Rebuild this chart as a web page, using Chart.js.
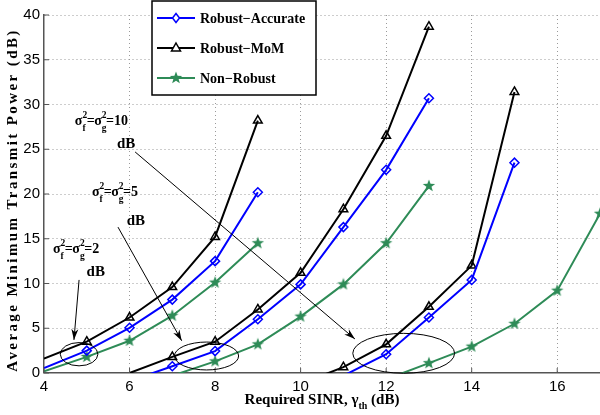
<!DOCTYPE html>
<html>
<head>
<meta charset="utf-8">
<script src="https://cdn.jsdelivr.net/npm/chart.js@4.4.0/dist/chart.umd.min.js"></script>
<style>
  html, body { margin: 0; padding: 0; background: #fff; }
  #wrap { width: 600px; height: 415px; }
</style>
</head>
<body>
<div id="wrap"><canvas id="powerChart"></canvas></div>
<script>
const seriesNames = ['Robust\u2212Accurate', 'Robust\u2212MoM', 'Non\u2212Robust'];
const seriesColors = ['#0000ff', '#000000', '#2e8b57'];

// sigma_f^2 = sigma_g^2 = 2 dB
const x2Acc = [4, 5, 6, 7, 8, 9];
const y2Acc = [0.55, 2.5, 5.05, 8.2, 12.5, 20.2];
const x2MoM = [4, 5, 6, 7, 8, 9];
const y2MoM = [1.6, 3.5, 6.2, 9.6, 15.2, 28.2];
const x2Non = [4, 5, 6, 7, 8, 9];
const y2Non = [0.2, 1.8, 3.6, 6.4, 10.1, 14.5];

// 5 dB
const x5Acc = [6, 7, 8, 9, 10, 11, 12, 13];
const y5Acc = [-0.9, 0.75, 2.45, 6.0, 9.9, 16.3, 22.7, 30.7];
const x5MoM = [6, 7, 8, 9, 10, 11, 12, 13];
const y5MoM = [0, 1.8, 3.5, 7.1, 11.2, 18.3, 26.5, 38.7];
const x5Non = [7, 8, 9, 10, 11, 12, 13];
const y5Non = [-0.3, 1.3, 3.2, 6.3, 9.9, 14.5, 20.9];

// 10 dB
const x10Acc = [11, 12, 13, 14, 15];
const y10Acc = [-0.3, 2.1, 6.2, 10.4, 23.5];
const x10MoM = [10, 11, 12, 13, 14, 15];
const y10MoM = [-1.2, 0.65, 3.2, 7.4, 12.0, 31.4];
const x10Non = [12, 13, 14, 15, 16, 17];
const y10Non = [-0.7, 1.1, 2.95, 5.5, 9.2, 17.8];

const xTicks = [4, 6, 8, 10, 12, 14, 16];
const yTicks = [0, 5, 10, 15, 20, 25, 30, 35, 40];
const X_MIN = 4, X_MAX = 17, Y_MIN = 0, Y_MAX = 40;

// annotations (data units)
const notes = [
    { tail: '10', x: 4.72, y: 27.7, dbx: 5.92, dby: 25.1 },
    { tail: '5', x: 5.12, y: 19.8, dbx: 6.15, dby: 16.5 },
    { tail: '2', x: 4.21, y: 13.4, dbx: 5.21, dby: 10.8 }
];
const rings = [
    { x: 4.82, y: 2.1, rx: 0.44, ry: 1.3 },
    { x: 7.80, y: 1.9, rx: 0.75, ry: 1.56 },
    { x: 12.41, y: 2.2, rx: 1.19, ry: 2.23 }
];
const arrows = [
    { x1: 4.82, y1: 10.4, x2: 4.70, y2: 3.7 },
    { x1: 5.73, y1: 16.3, x2: 7.22, y2: 3.6 },
    { x1: 6.13, y1: 24.7, x2: 11.27, y2: 3.8 }
];

function makeStar(color) {
    const c = document.createElement('canvas');
    c.width = 14; c.height = 14;
    const g = c.getContext('2d');
    g.fillStyle = color;
    g.beginPath();
    for (let i = 0; i < 10; i++) {
        const r = i % 2 === 0 ? 6.5 : 2.7;
        const a = -Math.PI / 2 + i * Math.PI / 5;
        const px = 7 + r * Math.cos(a), py = 7 + r * Math.sin(a);
        if (i === 0) g.moveTo(px, py); else g.lineTo(px, py);
    }
    g.closePath();
    g.fill();
    return c;
}
const starImg = makeStar(seriesColors[2]);

const pointStyles = ['rectRot', 'triangle', starImg];
const pointSizes = [4.5, 5, 6];

function mk(xs, ys, kind) {
    return {
        label: seriesNames[kind],
        data: xs.map((x, i) => ({ x: x, y: ys[i] })),
        showLine: true,
        borderColor: seriesColors[kind],
        backgroundColor: 'rgba(0,0,0,0)',
        borderWidth: 2,
        pointStyle: pointStyles[kind],
        pointRadius: ctx => (ctx.raw && (ctx.raw.y <= Y_MIN || ctx.raw.x <= X_MIN)) ? 0 : pointSizes[kind],
        pointBorderColor: seriesColors[kind],
        pointBackgroundColor: 'rgba(0,0,0,0)',
        pointBorderWidth: 1.5,
        tension: 0
    };
}

function arrowLine(ctx, x1, y1, x2, y2) {
    ctx.beginPath();
    ctx.moveTo(x1, y1);
    ctx.lineTo(x2, y2);
    ctx.stroke();
    const a = Math.atan2(y2 - y1, x2 - x1);
    const L = 11, W = 3.5;
    ctx.beginPath();
    ctx.moveTo(x2, y2);
    ctx.lineTo(x2 - L * Math.cos(a) + W * Math.sin(a), y2 - L * Math.sin(a) - W * Math.cos(a));
    ctx.lineTo(x2 - 0.7 * L * Math.cos(a), y2 - 0.7 * L * Math.sin(a));
    ctx.lineTo(x2 - L * Math.cos(a) - W * Math.sin(a), y2 - L * Math.sin(a) + W * Math.cos(a));
    ctx.closePath();
    ctx.fill();
}

function mathLabel(ctx, x, y, tail) {
    const big = 'bold 14px "Liberation Serif"';
    const small = 'bold 9.5px "Liberation Serif"';
    let cx = x;
    const sig = sub => {
        ctx.font = big;
        ctx.fillText('\u03c3', cx, y);
        cx += ctx.measureText('\u03c3').width;
        ctx.font = small;
        ctx.fillText('2', cx, y - 7);
        ctx.fillText(sub, cx, y + 6);
        cx += Math.max(ctx.measureText('2').width, ctx.measureText(sub).width) - 0.5;
    };
    sig('f');
    ctx.font = big;
    ctx.fillText('=', cx, y);
    cx += ctx.measureText('=').width - 0.5;
    sig('g');
    ctx.font = big;
    ctx.fillText('=' + tail, cx, y);
}

const extras = {
    id: 'extras',
    afterDatasetsDraw(chart) {
        const ctx = chart.ctx;
        const xs = chart.scales.x, ys = chart.scales.y;
        const area = chart.chartArea;
        ctx.save();

        // inward ticks
        ctx.strokeStyle = '#555';
        ctx.lineWidth = 1;
        yTicks.forEach(v => {
            const py = ys.getPixelForValue(v);
            ctx.beginPath(); ctx.moveTo(area.left, py); ctx.lineTo(area.left + 5, py); ctx.stroke();
        });
        xTicks.forEach(v => {
            const px = xs.getPixelForValue(v);
            ctx.beginPath(); ctx.moveTo(px, area.bottom); ctx.lineTo(px, area.bottom - 5); ctx.stroke();
        });

        // ellipses
        ctx.strokeStyle = '#000';
        ctx.lineWidth = 1;
        rings.forEach(r => {
            const cx = xs.getPixelForValue(r.x), cy = ys.getPixelForValue(r.y);
            const rx = xs.getPixelForValue(r.x + r.rx) - cx;
            const ry = cy - ys.getPixelForValue(r.y + r.ry);
            ctx.beginPath();
            ctx.ellipse(cx, cy, rx, ry, 0, 0, Math.PI * 2);
            ctx.stroke();
        });

        // arrows
        ctx.fillStyle = '#000';
        arrows.forEach(a => {
            arrowLine(ctx, xs.getPixelForValue(a.x1), ys.getPixelForValue(a.y1),
                xs.getPixelForValue(a.x2), ys.getPixelForValue(a.y2));
        });

        // labels
        ctx.textAlign = 'left';
        ctx.textBaseline = 'alphabetic';
        notes.forEach(n => {
            mathLabel(ctx, xs.getPixelForValue(n.x), ys.getPixelForValue(n.y), n.tail);
            ctx.font = 'bold 15px "Liberation Serif"';
            ctx.textAlign = 'center';
            ctx.fillText('dB', xs.getPixelForValue(n.dbx), ys.getPixelForValue(n.dby));
            ctx.textAlign = 'left';
        });

        // legend
        const lx = area.left + 108, ly = 1, lw = 164, lh = 94;
        ctx.fillStyle = '#fff';
        ctx.fillRect(lx, ly, lw, lh);
        ctx.strokeStyle = '#000';
        ctx.lineWidth = 1.5;
        ctx.strokeRect(lx, ly, lw, lh);
        ctx.font = 'bold 14px "Liberation Serif"';
        seriesNames.forEach((name, i) => {
            const yy = ly + 17 + i * 30;
            ctx.strokeStyle = seriesColors[i];
            ctx.lineWidth = 2;
            ctx.beginPath(); ctx.moveTo(lx + 5, yy); ctx.lineTo(lx + 43, yy); ctx.stroke();
            const mx = lx + 24;
            ctx.lineWidth = 1.5;
            if (i === 0) {
                ctx.beginPath();
                ctx.moveTo(mx, yy - 4.5); ctx.lineTo(mx + 3.5, yy); ctx.lineTo(mx, yy + 4.5); ctx.lineTo(mx - 3.5, yy);
                ctx.closePath(); ctx.fillStyle = '#fff'; ctx.fill(); ctx.stroke();
            } else if (i === 1) {
                ctx.beginPath();
                ctx.moveTo(mx, yy - 5); ctx.lineTo(mx + 4.5, yy + 3); ctx.lineTo(mx - 4.5, yy + 3);
                ctx.closePath(); ctx.fillStyle = '#fff'; ctx.fill(); ctx.stroke();
            } else {
                ctx.drawImage(starImg, mx - 7, yy - 7);
            }
            ctx.fillStyle = '#000';
            ctx.fillText(name, lx + 48, yy + 5);
        });

        // axis titles
        ctx.fillStyle = '#000';
        ctx.font = 'bold 15px "Liberation Serif"';
        ctx.letterSpacing = '2.4px';
        ctx.save();
        ctx.translate(17, (area.top + area.bottom) / 2 + 6);
        ctx.rotate(-Math.PI / 2);
        ctx.textAlign = 'center';
        ctx.fillText('Average Minimum Transmit Power (dB)', 0, 0);
        ctx.restore();
        ctx.letterSpacing = '0px';

        const partA = 'Required SINR, \u03b3', partB = 'th', partC = ' (dB)';
        ctx.font = 'bold 15px "Liberation Serif"';
        const wA = ctx.measureText(partA).width, wC = ctx.measureText(partC).width;
        ctx.font = 'bold 10px "Liberation Serif"';
        const wB = ctx.measureText(partB).width;
        let tx = 322 - (wA + wB + wC) / 2;
        const ty = 404;
        ctx.textAlign = 'left';
        ctx.font = 'bold 15px "Liberation Serif"';
        ctx.fillText(partA, tx, ty); tx += wA;
        ctx.font = 'bold 10px "Liberation Serif"';
        ctx.fillText(partB, tx, ty + 5); tx += wB;
        ctx.font = 'bold 15px "Liberation Serif"';
        ctx.fillText(partC, tx, ty);
        ctx.restore();
    }
};

new Chart(document.getElementById('powerChart').getContext('2d'), {
    type: 'scatter',
    data: {
        datasets: [
            mk(x2Acc, y2Acc, 0), mk(x2MoM, y2MoM, 1), mk(x2Non, y2Non, 2),
            mk(x5Acc, y5Acc, 0), mk(x5MoM, y5MoM, 1), mk(x5Non, y5Non, 2),
            mk(x10Acc, y10Acc, 0), mk(x10MoM, y10MoM, 1), mk(x10Non, y10Non, 2)
        ]
    },
    options: {
        responsive: true,
        maintainAspectRatio: false,
        animation: false,
        layout: { autoPadding: false, padding: { top: 15, right: 0, bottom: 0, left: 0 } },
        plugins: { legend: { display: false }, tooltip: { enabled: false } },
        scales: {
            x: {
                type: 'linear',
                min: X_MIN, max: X_MAX,
                afterBuildTicks: s => { s.ticks = xTicks.map(v => ({ value: v })); },
                afterFit: s => { s.height = 42; s.paddingRight = 0; s.paddingLeft = 0; },
                ticks: { color: '#000', padding: 5, font: { family: '"Liberation Sans"', size: 15 } },
                grid: { color: '#9a9a9a', drawTicks: false, lineWidth: ctx => (ctx.tick && ctx.tick.value === X_MIN) ? 0 : 1 },
                border: { display: true, color: '#555', width: 1.5, dash: [1, 3] }
            },
            y: {
                type: 'linear',
                min: Y_MIN, max: Y_MAX,
                afterBuildTicks: s => { s.ticks = yTicks.map(v => ({ value: v })); },
                afterFit: s => { s.width = 44; s.paddingTop = 0; s.paddingBottom = 0; },
                ticks: { color: '#000', padding: 4, font: { family: '"Liberation Sans"', size: 15 } },
                grid: { color: '#9a9a9a', drawTicks: false, lineWidth: ctx => (ctx.tick && ctx.tick.value === Y_MIN) ? 0 : 1 },
                border: { display: true, color: '#555', width: 1.5, dash: [1, 3] }
            }
        }
    },
    plugins: [extras]
});
</script>
</body>
</html>
